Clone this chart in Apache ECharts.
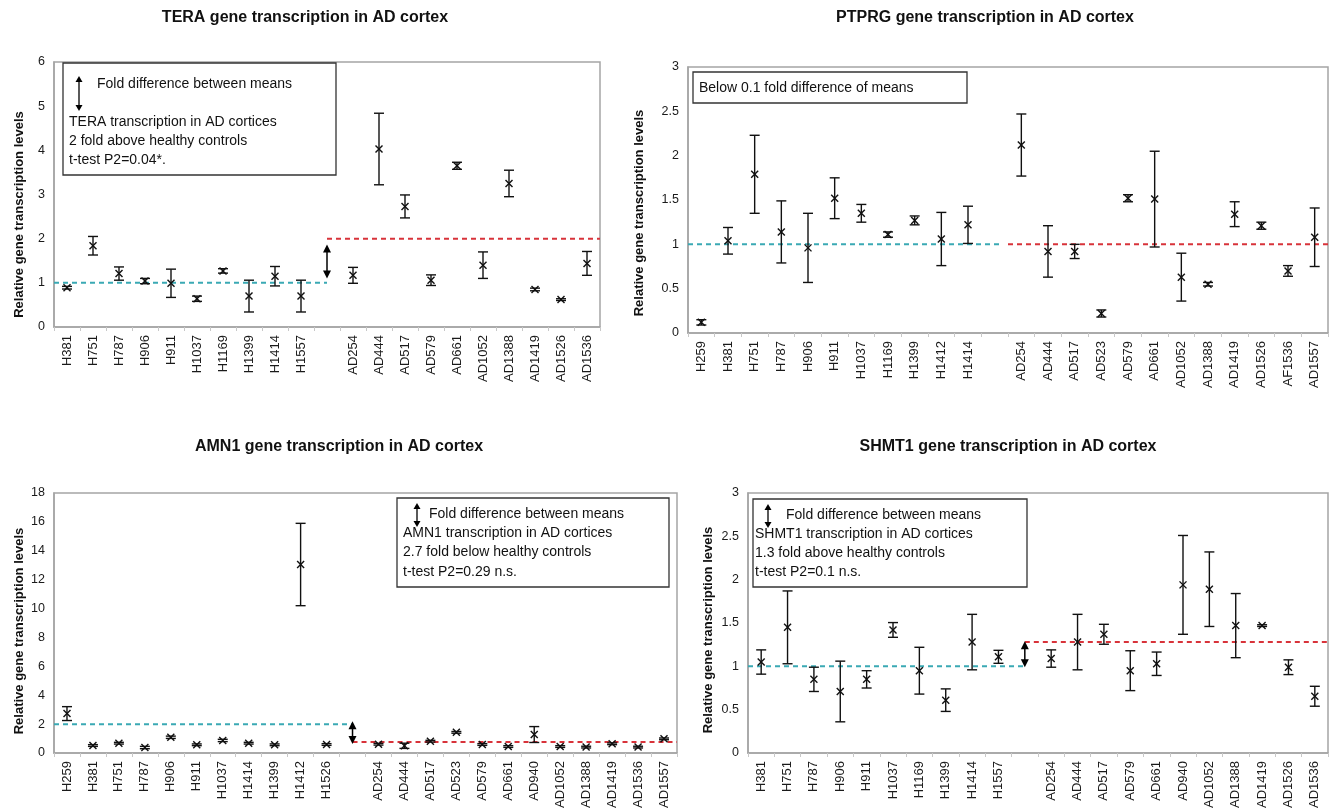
<!DOCTYPE html>
<html><head><meta charset="utf-8">
<script src="https://cdn.jsdelivr.net/npm/echarts@6/dist/echarts.min.js"></script>
<style>html,body{margin:0;padding:0;background:#fff}#c{width:1331px;height:811px}</style>
</head><body><div id="c"></div>
<script>
// ---------- TERA ----------
const teraCats  = ['H381','H751','H787','H906','H911','H1037','H1169','H1399','H1414','H1557','','AD254','AD444','AD517','AD579','AD661','AD1052','AD1388','AD1419','AD1526','AD1536'];
const teraMeans = [0.89,1.84,1.21,1.04,0.99,0.64,1.27,0.70,1.15,0.70,null,1.17,4.03,2.73,1.06,3.65,1.40,3.25,0.85,0.62,1.44];
const teraErrs  = [0.03,0.21,0.15,0.06,0.32,0.06,0.05,0.36,0.22,0.36,null,0.18,0.81,0.26,0.12,0.08,0.30,0.30,0.03,0.02,0.27];
const teraHealthyMean = 1.0, teraADMean = 2.0;
const teraArrow = [1.10, 1.87];
const teraYTicks = [0, 6, 1];

// ---------- PTPRG ----------
const ptprgCats  = ['H259','H381','H751','H787','H906','H911','H1037','H1169','H1399','H1412','H1414','','AD254','AD444','AD517','AD523','AD579','AD661','AD1052','AD1388','AD1419','AD1526','AF1536','AD1557'];
const ptprgMeans = [0.12,1.04,1.79,1.14,0.96,1.52,1.35,1.11,1.27,1.06,1.22,null,2.12,0.92,0.92,0.22,1.52,1.51,0.63,0.55,1.34,1.21,0.70,1.08];
const ptprgErrs  = [0.03,0.15,0.44,0.35,0.39,0.23,0.10,0.03,0.05,0.30,0.21,null,0.35,0.29,0.08,0.04,0.04,0.54,0.27,0.02,0.14,0.04,0.06,0.33];
const ptprgHealthyMean = 1.0, ptprgADMean = 1.0;
const ptprgYTicks = [0, 3, 0.5];

// ---------- AMN1 ----------
const amnCats  = ['H259','H381','H751','H787','H906','H911','H1037','H1414','H1399','H1412','H1526','','AD254','AD444','AD517','AD523','AD579','AD661','AD940','AD1052','AD1388','AD1419','AD1536','AD1557'];
const amnMeans = [2.73,0.52,0.68,0.38,1.09,0.57,0.87,0.68,0.57,13.05,0.59,null,0.61,0.50,0.82,1.43,0.59,0.45,1.28,0.45,0.41,0.64,0.41,0.98];
const amnErrs  = [0.48,0.06,0.06,0.08,0.08,0.06,0.08,0.06,0.06,2.85,0.06,null,0.06,0.18,0.06,0.06,0.06,0.06,0.55,0.06,0.06,0.06,0.06,0.06];
const amnHealthyMean = 2.0, amnADMean = 0.76;
const amnArrow = [0.62, 2.20];
const amnYTicks = [0, 18, 2];

// ---------- SHMT1 ----------
const shmtCats  = ['H381','H751','H787','H906','H911','H1037','H1169','H1399','H1414','H1557','','AD254','AD444','AD517','AD579','AD661','AD940','AD1052','AD1388','AD1419','AD1526','AD1536'];
const shmtMeans = [1.05,1.45,0.85,0.71,0.85,1.42,0.95,0.61,1.28,1.11,null,1.09,1.28,1.37,0.95,1.03,1.94,1.89,1.47,1.47,0.99,0.655];
const shmtErrs  = [0.14,0.42,0.14,0.35,0.10,0.085,0.27,0.13,0.32,0.075,null,0.10,0.32,0.115,0.23,0.135,0.57,0.43,0.37,0.01,0.085,0.115];
const shmtHealthyMean = 1.0, shmtADMean = 1.28;
const shmtArrow = [0.99, 1.29];
const shmtYTicks = [0, 3, 0.5];

const titles = ['TERA gene transcription in AD cortex','PTPRG gene transcription in AD cortex','AMN1 gene transcription in AD cortex','SHMT1 gene transcription in AD cortex'];
const yName = 'Relative gene transcription levels';

const FONT = '"Liberation Sans", Arial, sans-serif';
const BLUE = '#3aa9b4', RED = '#d8333a';

function errRender(params, api){
  const idx = api.value(0), m = api.value(1), e = api.value(2);
  const c = api.coord([idx, m]);
  const hi = api.coord([idx, m+e]);
  const lo = api.coord([idx, m-e]);
  const cw = 5, xs = 3.5;
  const st = {stroke:'#111', lineWidth:1.4};
  return {type:'group', children:[
    {type:'line', shape:{x1:c[0],y1:hi[1],x2:c[0],y2:lo[1]}, style:st},
    {type:'line', shape:{x1:c[0]-cw,y1:hi[1],x2:c[0]+cw,y2:hi[1]}, style:st},
    {type:'line', shape:{x1:c[0]-cw,y1:lo[1],x2:c[0]+cw,y2:lo[1]}, style:st},
    {type:'line', shape:{x1:c[0]-xs,y1:c[1]-xs,x2:c[0]+xs,y2:c[1]+xs}, style:st},
    {type:'line', shape:{x1:c[0]-xs,y1:c[1]+xs,x2:c[0]+xs,y2:c[1]-xs}, style:st}
  ]};
}
function lineRender(color){
  return function(params, api){
    const v = api.value(1), a = api.value(2), b = api.value(3);
    const c0 = api.coord([0, v]);
    const bw = api.size([1, 0])[0];
    return {type:'line', shape:{x1:c0[0]+a*bw, y1:c0[1], x2:c0[0]+b*bw, y2:c0[1]},
      style:{stroke:color, lineWidth:2, lineDash:[5,4]}};
  };
}
function arrowRender(params, api){
  const i = api.value(0);
  const p1 = api.coord([i, api.value(1)]), p2 = api.coord([i, api.value(2)]);
  const x = p1[0], h = 8, w = 4;
  const yTop = Math.min(p1[1],p2[1]), yBot = Math.max(p1[1],p2[1]);
  return {type:'group', children:[
    {type:'line', shape:{x1:x,y1:yTop+h-1,x2:x,y2:yBot-h+1}, style:{stroke:'#000', lineWidth:1.5}},
    {type:'polygon', shape:{points:[[x,yTop],[x-w,yTop+h],[x+w,yTop+h]]}, style:{fill:'#000'}},
    {type:'polygon', shape:{points:[[x,yBot],[x-w,yBot-h],[x+w,yBot-h]]}, style:{fill:'#000'}}
  ]};
}

const panels = [
  {cats:teraCats, means:teraMeans, errs:teraErrs, hm:teraHealthyMean, am:teraADMean, arrow:teraArrow, yt:teraYTicks,
   grid:{left:54, top:62, right:731, bottom:484}, nameGap:28, nameShift:40},
  {cats:ptprgCats, means:ptprgMeans, errs:ptprgErrs, hm:ptprgHealthyMean, am:ptprgADMean, arrow:null, yt:ptprgYTicks,
   grid:{left:688, top:67, right:3, bottom:478}, nameGap:42, nameShift:26},
  {cats:amnCats, means:amnMeans, errs:amnErrs, hm:amnHealthyMean, am:amnADMean, arrow:amnArrow, yt:amnYTicks,
   grid:{left:54, top:493, right:654, bottom:55}, nameGap:28, nameShift:16},
  {cats:shmtCats, means:shmtMeans, errs:shmtErrs, hm:shmtHealthyMean, am:shmtADMean, arrow:shmtArrow, yt:shmtYTicks,
   grid:{left:748, top:493, right:3, bottom:54}, nameGap:33, nameShift:14}
];

const grid = [], xAxis = [], yAxis = [], series = [];
panels.forEach((p, g) => {
  grid.push(Object.assign({show:true, borderColor:'#a5a5a5', borderWidth:1.5, backgroundColor:'#fff'}, p.grid));
  xAxis.push({type:'category', gridIndex:g, data:p.cats, boundaryGap:true,
    axisLine:{lineStyle:{color:'#a5a5a5', width:1.5}},
    axisTick:{show:true, length:4, lineStyle:{color:'#c8c8c8'}},
    axisLabel:{rotate:90, interval:0, fontSize:13, color:'#1a1a1a', fontFamily:FONT, margin:8}});
  yAxis.push({type:'value', gridIndex:g, min:p.yt[0], max:p.yt[1], interval:p.yt[2],
    name:yName, nameLocation:'middle', nameGap:p.nameGap,
    nameTextStyle:{fontWeight:'bold', fontSize:13, color:'#111', fontFamily:FONT, padding:[0, p.nameShift, 0, 0]},
    splitLine:{show:false}, axisLine:{show:true, lineStyle:{color:'#a5a5a5', width:1.5}},
    axisTick:{show:false}, axisLabel:{fontSize:12.5, color:'#1a1a1a', fontFamily:FONT, margin:9}});
  const blank = p.cats.indexOf('');
  const n = p.cats.length;
  const healthyEnd = p.arrow ? blank : blank + 0.2;
  const adStart = p.arrow ? blank : blank + 0.5;
  series.push({type:'custom', xAxisIndex:g, yAxisIndex:g, renderItem:lineRender(BLUE), encode:{x:0,y:1}, silent:true,
    data:[[0, p.hm, -0.5, healthyEnd]], z:2});
  series.push({type:'custom', xAxisIndex:g, yAxisIndex:g, renderItem:lineRender(RED), encode:{x:0,y:1}, silent:true,
    data:[[0, p.am, adStart, n - 0.5]], z:2});
  const d = [];
  p.means.forEach((m, i) => { if (m != null) d.push([i, m, p.errs[i]]); });
  series.push({type:'custom', xAxisIndex:g, yAxisIndex:g, renderItem:errRender, encode:{x:0,y:1}, data:d, z:3});
  if (p.arrow) {
    series.push({type:'custom', xAxisIndex:g, yAxisIndex:g, renderItem:arrowRender, encode:{x:0,y:[1,2]},
      data:[[blank, p.arrow[0], p.arrow[1]]], z:4});
  }
});

function smallArrow(x, y1, y2){
  const h = 6, w = 3.5;
  return [
    {type:'line', shape:{x1:x,y1:y1+h-1,x2:x,y2:y2-h+1}, style:{stroke:'#000', lineWidth:1.3}, z:10},
    {type:'polygon', shape:{points:[[x,y1],[x-w,y1+h],[x+w,y1+h]]}, style:{fill:'#000'}, z:10},
    {type:'polygon', shape:{points:[[x,y2],[x-w,y2-h],[x+w,y2-h]]}, style:{fill:'#000'}, z:10}
  ];
}
const tStyle = {fontSize:14, fontFamily:FONT, fill:'#111'};
function txt(x, y, s){ return {type:'text', left:x, top:y, style:Object.assign({text:s}, tStyle), z:10}; }
function box(x, y, w, h){ return {type:'rect', shape:{x:x, y:y, width:w, height:h}, style:{fill:'#fff', stroke:'#333', lineWidth:1.3}, z:9}; }

const graphic = [
  box(63, 63, 273, 112),
  ...smallArrow(79, 76, 111),
  txt(97, 77, 'Fold difference between means'),
  txt(69, 115, 'TERA transcription in AD cortices'),
  txt(69, 134, '2 fold above healthy controls'),
  txt(69, 153, 't-test P2=0.04*.'),

  box(693, 72, 274, 31),
  txt(699, 81, 'Below 0.1 fold difference of means'),

  box(397, 498, 272, 89),
  ...smallArrow(417, 503, 527),
  txt(429, 507, 'Fold difference between means'),
  txt(403, 526, 'AMN1 transcription in AD cortices'),
  txt(403, 545, '2.7 fold below healthy controls'),
  txt(403, 565, 't-test P2=0.29 n.s.'),

  box(753, 499, 274, 88),
  ...smallArrow(768, 504, 528),
  txt(786, 508, 'Fold difference between means'),
  txt(755, 527, 'SHMT1 transcription in AD cortices'),
  txt(755, 546, '1.3 fold above healthy controls'),
  txt(755, 565, 't-test P2=0.1 n.s.')
];

const titleStyle = {fontSize:16, fontWeight:'bold', color:'#111', fontFamily:FONT};
const title = [
  {text:titles[0], left:305, top:10, textAlign:'center', textStyle:titleStyle, padding:0},
  {text:titles[1], left:985, top:10, textAlign:'center', textStyle:titleStyle, padding:0},
  {text:titles[2], left:339, top:439, textAlign:'center', textStyle:titleStyle, padding:0},
  {text:titles[3], left:1008, top:439, textAlign:'center', textStyle:titleStyle, padding:0}
];

const chart = echarts.init(document.getElementById('c'), null, {renderer:'canvas'});
chart.setOption({animation:false, backgroundColor:'#fff', title, grid, xAxis, yAxis, series, graphic});
</script>
</body></html>
